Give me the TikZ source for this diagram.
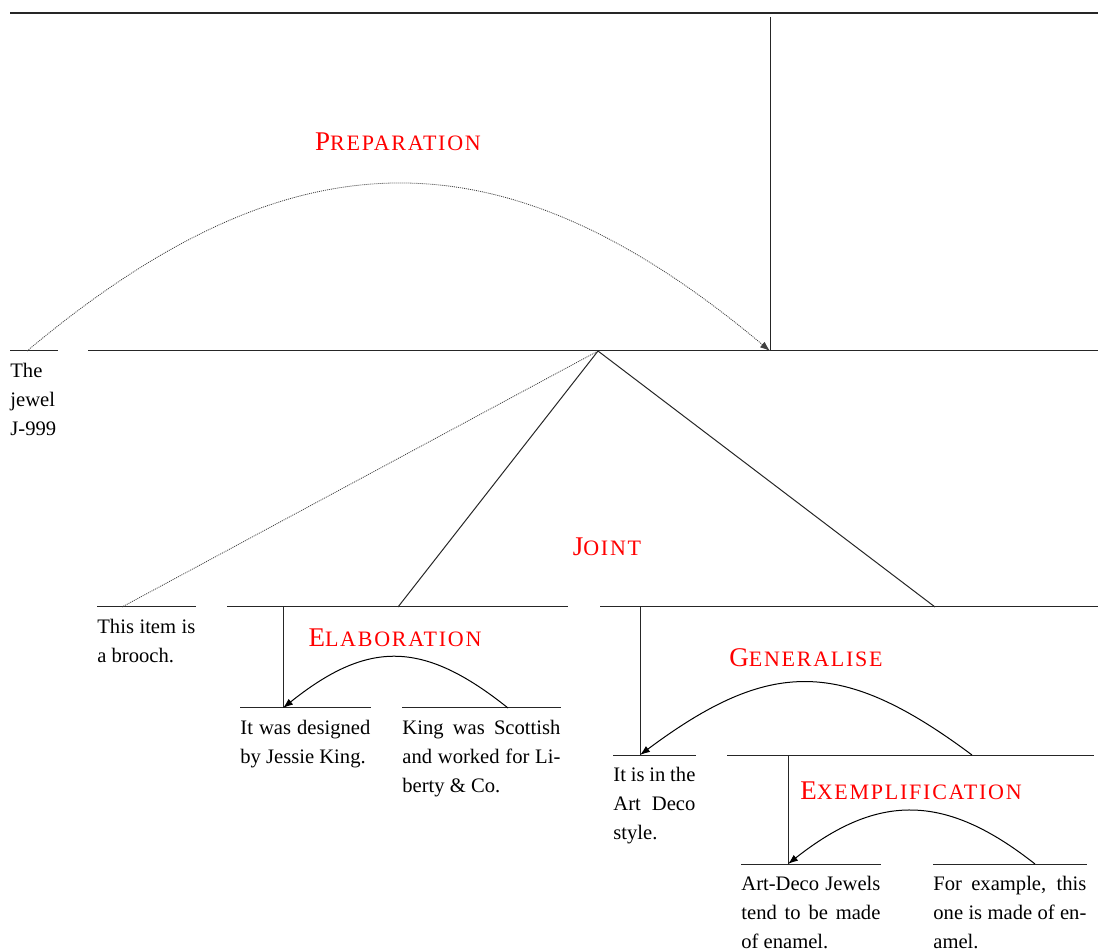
\documentclass[tikz,border=0pt]{standalone}
\usepackage{fontspec}
\setmainfont{Liberation Serif}
\usetikzlibrary{arrows.meta,positioning}

\newcommand{\leaffont}{\fontsize{10.3}{14.5}\selectfont}
\newcommand{\relname}[2]{{\fontsize{13.5}{15}\selectfont #1}{\fontsize{11}{12}\selectfont\addfontfeature{LetterSpace=8}#2}}

\begin{document}
\begin{tikzpicture}[x=0.5pt, y=-0.5pt, >={Latex[length=5pt,width=3.6pt]},
    rule/.style={draw=black!85, line width=0.5pt},
    leaf/.style={anchor=north west, inner xsep=0pt, inner ysep=6pt, text width=#1, align=justify, font=\leaffont},
    rel/.style={text=red, inner sep=0pt},
    satarc/.style={->, line width=0.5pt},
    dots/.style={draw=black!75, line width=0.4pt, dash pattern=on 0.5pt off 0.5pt}]

\useasboundingbox (0,0) rectangle (1098,951);

% Root and preparation
\coordinate (root-l) at (10,13);
\coordinate (root-r) at (1098,13);
\coordinate (prep-top) at (770,17);
\node[leaf=23.5pt, align=left] (jewel) at (10,351) {The\\ jewel\\ J-999};
\coordinate (jewel-sat) at (27,351);
\coordinate (main-l) at (88,351);
\coordinate (main-r) at (1098,351);
\coordinate (main-nuc) at (770,351);
\node[rel] (prep-lab) at (398,142) {\relname{P}{REPARATION}};

\draw[rule, line width=0.7pt] (root-l) -- (root-r);
\draw[rule] (prep-top) -- (main-nuc);
\draw[rule] (jewel.north west) -- (jewel.north east);
\draw[rule] (main-l) -- (main-r);
\draw[dots, ->] (jewel-sat) .. controls +(266,-223) and +(-266,-223) .. (main-nuc);

% Joint
\coordinate (joint-top) at (598,351);
\node[leaf=49pt] (brooch) at (97,607) {This item is\linebreak a brooch.};
\coordinate (brooch-top) at (122,607);
\coordinate (elab-l) at (227,607);
\coordinate (elab-r) at (568,607);
\coordinate (elab-top) at (398,607);
\coordinate (elab-nuc) at (283,607);
\coordinate (gen-l) at (600,607);
\coordinate (gen-r) at (1098,607);
\coordinate (gen-top) at (935,607);
\coordinate (gen-nuc) at (640,607);
\node[rel] (joint-lab) at (607,547) {\relname{J}{OINT}};

\draw[rule] (brooch.north west) -- (brooch.north east);
\draw[rule] (elab-l) -- (elab-r);
\draw[rule] (gen-l) -- (gen-r);
\draw[dots] (joint-top) -- (brooch-top);
\draw[rule] (joint-top) -- (elab-top);
\draw[rule] (joint-top) -- (gen-top);

% Elaboration
\node[leaf=65pt] (designed) at (240,708) {It was designed\linebreak by Jessie King.};
\node[leaf=79pt] (scottish) at (402,708) {King was Scottish\linebreak and worked for Li-\linebreak berty \& Co.};
\coordinate (designed-nuc) at (283,708);
\coordinate (scottish-sat) at (508,708);
\node[rel] (elab-lab) at (395,638) {\relname{E}{LABORATION}};

\draw[rule] (designed.north west) -- (designed.north east);
\draw[rule] (scottish.north west) -- (scottish.north east);
\draw[rule] (elab-nuc) -- (designed-nuc);
\draw[satarc] (scottish-sat) .. controls +(-85,-68) and +(85,-68) .. (designed-nuc);

% Generalise
\node[leaf=41pt] (artdeco) at (613,755) {It is in the\linebreak Art Deco\linebreak style.};
\coordinate (artdeco-nuc) at (640,755);
\coordinate (exem-l) at (727,755);
\coordinate (exem-r) at (1094,755);
\coordinate (exem-top) at (972,755);
\coordinate (exem-nuc) at (788,755);
\node[rel] (gen-lab) at (806,658) {\relname{G}{ENERALISE}};

\draw[rule] (artdeco.north west) -- (artdeco.north east);
\draw[rule] (exem-l) -- (exem-r);
\draw[rule] (gen-nuc) -- (artdeco-nuc);
\draw[satarc] (exem-top) .. controls +(-130,-97) and +(130,-97) .. (artdeco-nuc);

% Exemplification
\node[leaf=69.5pt] (jewels) at (741,864) {Art-Deco Jewels\linebreak tend to be made\linebreak of enamel.};
\node[leaf=76.5pt] (example) at (933,864) {For example, this\linebreak one is made of en-\linebreak amel.};
\coordinate (jewels-nuc) at (788,864);
\coordinate (example-sat) at (1035,864);
\node[rel] (exem-lab) at (911,791) {\relname{E}{XEMPLIFICATION}};

\draw[rule] (jewels.north west) -- (jewels.north east);
\draw[rule] (example.north west) -- (example.north east);
\draw[rule] (exem-nuc) -- (jewels-nuc);
\draw[satarc] (example-sat) .. controls +(-90,-71) and +(90,-71) .. (jewels-nuc);

\end{tikzpicture}
\end{document}
